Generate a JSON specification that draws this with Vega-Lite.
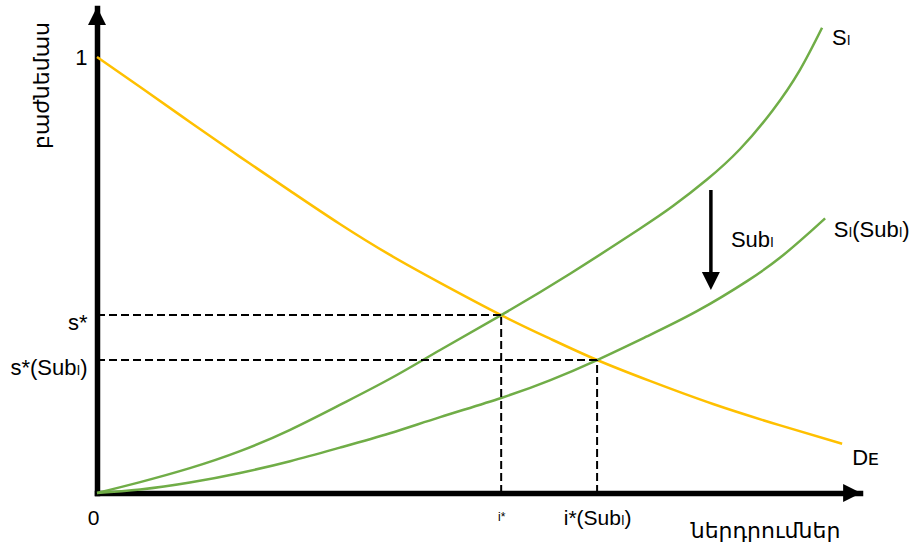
{
  "$schema": "https://vega.github.io/schema/vega-lite/v6.json",
  "width": 763,
  "height": 485,
  "autosize": "none",
  "padding": {"left": 97, "top": 8, "right": 63, "bottom": 52},
  "background": "white",
  "config": {
    "view": {"stroke": null},
    "font": "Liberation Sans, DejaVu Sans",
    "axis": {"grid": false, "ticks": false, "domainColor": "black", "domainWidth": 5.5, "domainCap": "square", "labelColor": "black", "labelFlush": false, "labelFont": "Liberation Sans, DejaVu Sans", "titleFont": "Liberation Sans, DejaVu Sans", "titleFontWeight": "normal", "titleColor": "black"}
  },
  "datasets": {
    "curves": [
      {"series": "D_E", "x": 0, "y": 1.0},
      {"series": "D_E", "x": 0.099, "y": 0.931},
      {"series": "D_E", "x": 0.213, "y": 0.851},
      {"series": "D_E", "x": 0.328, "y": 0.771},
      {"series": "D_E", "x": 0.443, "y": 0.693},
      {"series": "D_E", "x": 0.557, "y": 0.617},
      {"series": "D_E", "x": 0.672, "y": 0.546},
      {"series": "D_E", "x": 0.787, "y": 0.482},
      {"series": "D_E", "x": 0.927, "y": 0.408},
      {"series": "D_E", "x": 1.039, "y": 0.354},
      {"series": "D_E", "x": 1.147, "y": 0.305},
      {"series": "D_E", "x": 1.268, "y": 0.257},
      {"series": "D_E", "x": 1.413, "y": 0.204},
      {"series": "D_E", "x": 1.567, "y": 0.155},
      {"series": "D_E", "x": 1.709, "y": 0.113},
      {"series": "S_I", "x": 0, "y": 0},
      {"series": "S_I", "x": 0.099, "y": 0.025},
      {"series": "S_I", "x": 0.213, "y": 0.057},
      {"series": "S_I", "x": 0.328, "y": 0.096},
      {"series": "S_I", "x": 0.443, "y": 0.145},
      {"series": "S_I", "x": 0.557, "y": 0.202},
      {"series": "S_I", "x": 0.672, "y": 0.262},
      {"series": "S_I", "x": 0.787, "y": 0.328},
      {"series": "S_I", "x": 0.927, "y": 0.408},
      {"series": "S_I", "x": 1.085, "y": 0.503},
      {"series": "S_I", "x": 1.245, "y": 0.606},
      {"series": "S_I", "x": 1.321, "y": 0.658},
      {"series": "S_I", "x": 1.399, "y": 0.719},
      {"series": "S_I", "x": 1.475, "y": 0.789},
      {"series": "S_I", "x": 1.550, "y": 0.878},
      {"series": "S_I", "x": 1.612, "y": 0.970},
      {"series": "S_I", "x": 1.663, "y": 1.067},
      {"series": "S_I(Sub_I)", "x": 0, "y": 0},
      {"series": "S_I(Sub_I)", "x": 0.099, "y": 0.008},
      {"series": "S_I(Sub_I)", "x": 0.213, "y": 0.024},
      {"series": "S_I(Sub_I)", "x": 0.328, "y": 0.046},
      {"series": "S_I(Sub_I)", "x": 0.443, "y": 0.073},
      {"series": "S_I(Sub_I)", "x": 0.557, "y": 0.104},
      {"series": "S_I(Sub_I)", "x": 0.672, "y": 0.137},
      {"series": "S_I(Sub_I)", "x": 0.787, "y": 0.174},
      {"series": "S_I(Sub_I)", "x": 0.927, "y": 0.218},
      {"series": "S_I(Sub_I)", "x": 1.040, "y": 0.259},
      {"series": "S_I(Sub_I)", "x": 1.147, "y": 0.305},
      {"series": "S_I(Sub_I)", "x": 1.261, "y": 0.359},
      {"series": "S_I(Sub_I)", "x": 1.376, "y": 0.417},
      {"series": "S_I(Sub_I)", "x": 1.491, "y": 0.486},
      {"series": "S_I(Sub_I)", "x": 1.567, "y": 0.540},
      {"series": "S_I(Sub_I)", "x": 1.628, "y": 0.592},
      {"series": "S_I(Sub_I)", "x": 1.670, "y": 0.630}
    ],
    "equilibria": [
      {"case": "S_I", "i": 0.927, "s": 0.408, "origin": 0},
      {"case": "S_I(Sub_I)", "i": 1.147, "s": 0.305, "origin": 0}
    ],
    "labels": [
      {"label": "Sₗ", "x": 1.686, "y": 1.044},
      {"label": "Sₗ(Subₗ)", "x": 1.690, "y": 0.603},
      {"label": "Subₗ", "x": 1.454, "y": 0.580},
      {"label": "Dᴇ", "x": 1.732, "y": 0.080}
    ],
    "shift": [
      {"x": 1.408, "y": 0.695, "y2": 0.498}
    ],
    "arrowheads": [
      {"dir": "up", "x": 0, "y": 1.094},
      {"dir": "right", "x": 1.732, "y": 0},
      {"dir": "down", "x": 1.408, "y": 0.486}
    ]
  },
  "layer": [
    {
      "data": {"name": "curves"},
      "mark": {"type": "line", "interpolate": "natural", "strokeWidth": 2.5},
      "encoding": {
        "x": {"field": "x", "type": "quantitative", "scale": {"domain": [0, 1.75], "nice": false, "zero": false},
          "axis": {"values": [0, 0.927, 1.147], "labelExpr": "datum.value == 0 ? '0' : (datum.value < 1 ? 'i*' : 'i*(Subₗ)')",
            "labelFontSize": {"condition": {"test": "datum.value > 0.5 && datum.value < 1", "value": 12}, "value": 21},
            "labelOffset": {"condition": {"test": "datum.value == 0", "value": -4}, "value": 0},
            "labelPadding": {"condition": {"test": "datum.value > 0.5 && datum.value < 1", "value": 18}, "value": 14},
            "title": "ներդրումներ", "titleFontSize": 22, "titleX": 668, "titleY": 37, "titleBaseline": "middle", "titleAlign": "center"}},
        "y": {"field": "y", "type": "quantitative", "scale": {"domain": [0, 1.1124], "nice": false, "zero": false},
          "axis": {"values": [1, 0.408, 0.305], "labelExpr": "datum.value == 1 ? '1' : (datum.value > 0.35 ? 's*' : 's*(Subₗ)')",
            "labelFontSize": 22, "labelPadding": 10,
            "labelOffset": {"condition": {"test": "datum.value == 1", "value": 0}, "value": 7},
            "title": "բաժնեմաս", "titleFontSize": 22, "titleAngle": -90, "titleX": -56, "titleY": 77, "titleBaseline": "middle", "titleAlign": "center"}},
        "color": {"field": "series", "type": "nominal", "scale": {"domain": ["D_E", "S_I", "S_I(Sub_I)"], "range": ["#FFC000", "#70AD47", "#70AD47"]}, "legend": null}
      }
    },
    {
      "data": {"name": "equilibria"},
      "mark": {"type": "rule", "strokeDash": [8, 4], "strokeWidth": 2, "color": "black"},
      "encoding": {
        "x": {"field": "origin", "type": "quantitative", "scale": {"domain": [0, 1.75], "nice": false, "zero": false}},
        "x2": {"field": "i"},
        "y": {"field": "s", "type": "quantitative", "scale": {"domain": [0, 1.1124], "nice": false, "zero": false}}
      }
    },
    {
      "data": {"name": "equilibria"},
      "mark": {"type": "rule", "strokeDash": [8, 4], "strokeWidth": 2, "color": "black"},
      "encoding": {
        "x": {"field": "i", "type": "quantitative", "scale": {"domain": [0, 1.75], "nice": false, "zero": false}},
        "y": {"field": "origin", "type": "quantitative", "scale": {"domain": [0, 1.1124], "nice": false, "zero": false}},
        "y2": {"field": "s"}
      }
    },
    {
      "data": {"name": "shift"},
      "mark": {"type": "rule", "strokeWidth": 3.5, "color": "black"},
      "encoding": {
        "x": {"field": "x", "type": "quantitative", "scale": {"domain": [0, 1.75], "nice": false, "zero": false}},
        "y": {"field": "y", "type": "quantitative", "scale": {"domain": [0, 1.1124], "nice": false, "zero": false}},
        "y2": {"field": "y2"}
      }
    },
    {
      "data": {"name": "arrowheads"},
      "mark": {"type": "point", "filled": true, "opacity": 1, "color": "black", "strokeWidth": 0},
      "encoding": {
        "x": {"field": "x", "type": "quantitative", "scale": {"domain": [0, 1.75], "nice": false, "zero": false}},
        "y": {"field": "y", "type": "quantitative", "scale": {"domain": [0, 1.1124], "nice": false, "zero": false}},
        "shape": {"field": "dir", "type": "nominal", "scale": {"domain": ["up", "right", "down"], "range": ["M0,-1L1,1L-1,1Z", "M1,0L-1,-1L-1,1Z", "M0,1L1,-1L-1,-1Z"]}, "legend": null},
        "size": {"field": "dir", "type": "nominal", "scale": {"domain": ["up", "right", "down"], "range": [324, 324, 256]}, "legend": null}
      }
    },
    {
      "data": {"name": "labels"},
      "mark": {"type": "text", "align": "left", "baseline": "middle", "fontSize": 22, "color": "black", "font": "Liberation Sans, DejaVu Sans"},
      "encoding": {
        "x": {"field": "x", "type": "quantitative", "scale": {"domain": [0, 1.75], "nice": false, "zero": false}},
        "y": {"field": "y", "type": "quantitative", "scale": {"domain": [0, 1.1124], "nice": false, "zero": false}},
        "text": {"field": "label"}
      }
    }
  ]
}
